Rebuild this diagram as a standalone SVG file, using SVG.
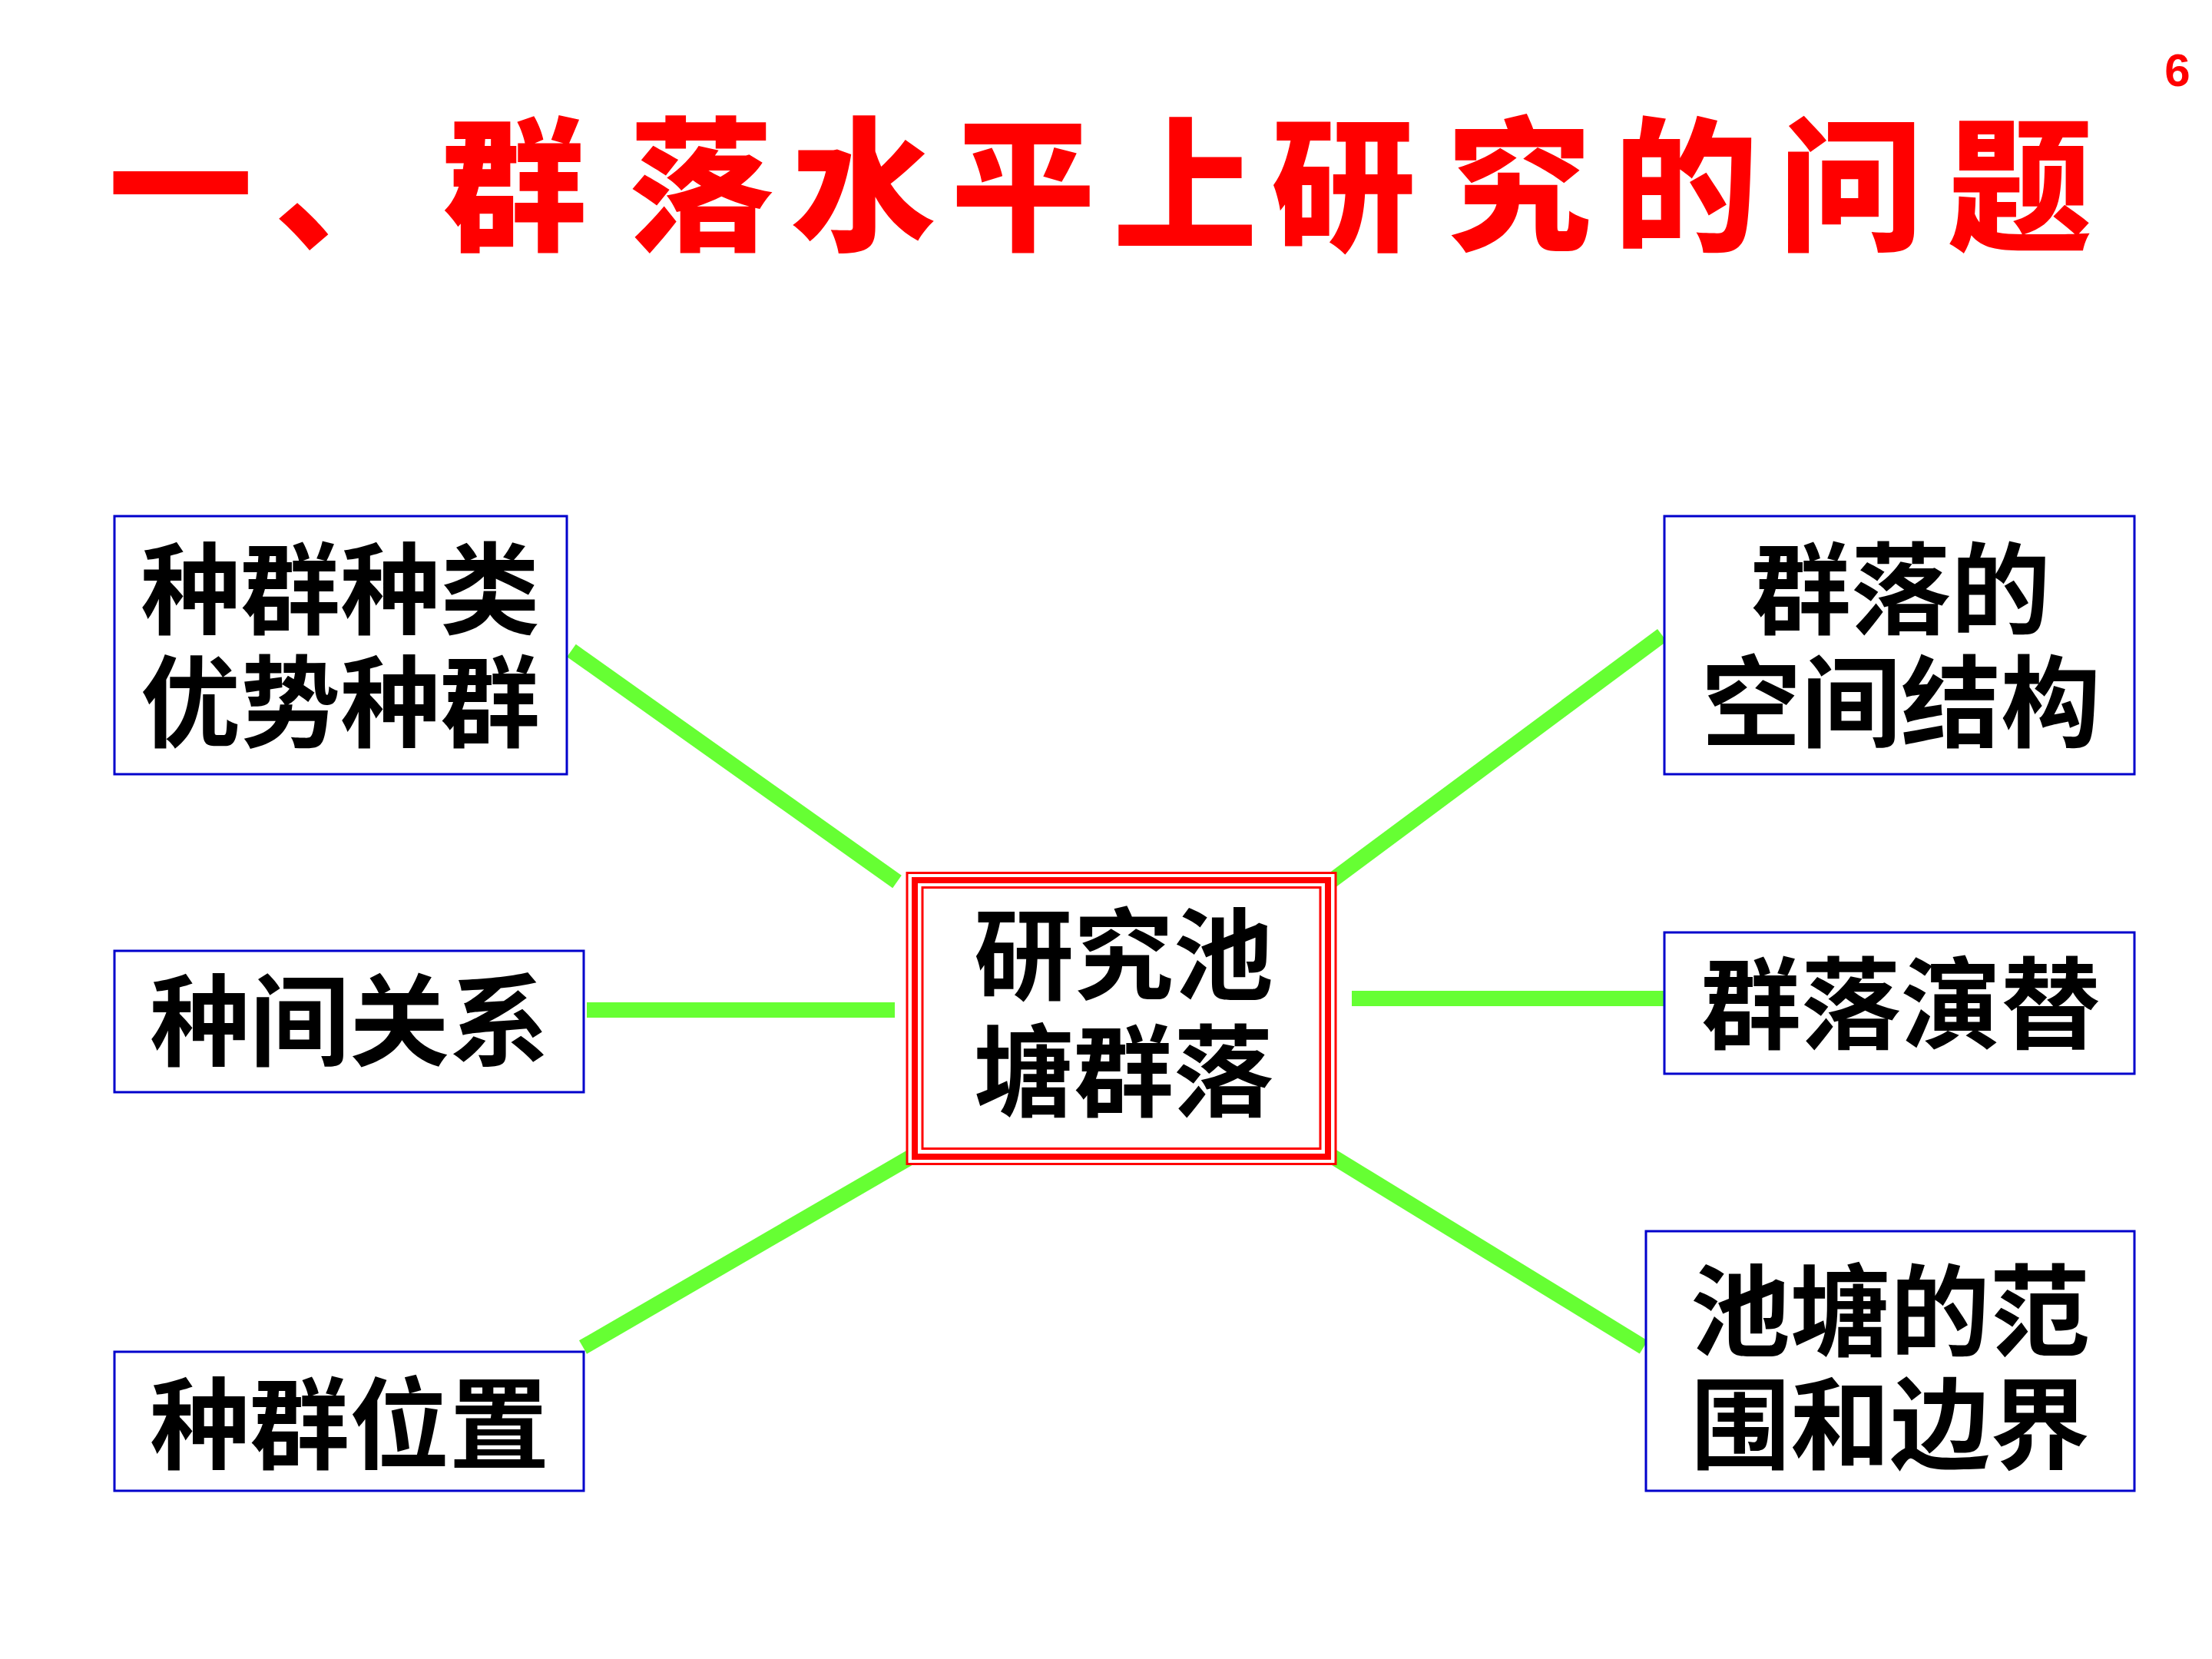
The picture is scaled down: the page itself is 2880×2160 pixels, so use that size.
<svg xmlns="http://www.w3.org/2000/svg" width="2880" height="2160" viewBox="0 0 2880 2160">
<style>
.box{fill:#fff;stroke:#0000CC;stroke-width:3}
.t{font-family:"Noto Sans CJK SC","Noto Sans CJK JP",sans-serif;font-weight:700;font-size:130px;fill:#000;text-anchor:middle}
.title{font-family:"Noto Sans CJK SC",sans-serif;font-weight:900;font-size:188px;fill:#FF0000;text-anchor:middle}
.conn{stroke:#66FF33;stroke-width:20;fill:none}
.red{fill:none;stroke:#FF0000}
</style>
<rect width="2880" height="2160" fill="#fff"/>
<text id="page" x="2835" y="112" font-family="Liberation Sans, Arial, sans-serif" font-weight="700" font-size="60" fill="#FF0000" text-anchor="middle">6</text>
<text id="title" class="title" y="311" x="235 451 670 913 1124 1332 1543 1749 1978 2195 2410 2630">一、群落水平上研究的问题</text>
<g id="connectors">
<line class="conn" x1="744" y1="847" x2="1168" y2="1148"/>
<line class="conn" x1="764" y1="1315" x2="1165" y2="1315"/>
<line class="conn" x1="759" y1="1754" x2="1190" y2="1504"/>
<line class="conn" x1="1732" y1="1148" x2="2164" y2="827"/>
<line class="conn" x1="1760" y1="1300" x2="2167" y2="1300"/>
<line class="conn" x1="1732" y1="1504" x2="2140" y2="1754"/>
</g>
<g id="center">
<rect x="1180" y="1136" width="560" height="380" fill="#fff" stroke="none"/>
<rect class="red" x="1181" y="1136.5" width="558" height="379" stroke-width="3"/>
<rect class="red" x="1191" y="1146" width="538" height="360" stroke-width="8"/>
<rect class="red" x="1201" y="1155.5" width="518" height="340" stroke-width="3"/>
<text class="t"><tspan x="1463" y="1291">研究池</tspan><tspan x="1463" y="1443">塘群落</tspan></text>
</g>
<g id="n1">
<rect class="box" x="149" y="672" width="589" height="336"/>
<text class="t"><tspan x="443" y="815">种群种类</tspan><tspan x="443" y="962">优势种群</tspan></text>
</g>
<g id="n2">
<rect class="box" x="149" y="1238" width="611" height="184"/>
<text class="t" x="455" y="1377">种间关系</text>
</g>
<g id="n3">
<rect class="box" x="149" y="1760" width="611" height="181"/>
<text class="t" x="455" y="1902">种群位置</text>
</g>
<g id="n4">
<rect class="box" x="2167" y="672" width="612" height="336"/>
<text class="t"><tspan x="2475" y="815">群落的</tspan><tspan x="2475" y="962">空间结构</tspan></text>
</g>
<g id="n5">
<rect class="box" x="2167" y="1214" width="612" height="184"/>
<text class="t" x="2475" y="1355">群落演替</text>
</g>
<g id="n6">
<rect class="box" x="2143" y="1603" width="636" height="338"/>
<text class="t"><tspan x="2461" y="1755">池塘的范</tspan><tspan x="2461" y="1902">围和边界</tspan></text>
</g>
</svg>
